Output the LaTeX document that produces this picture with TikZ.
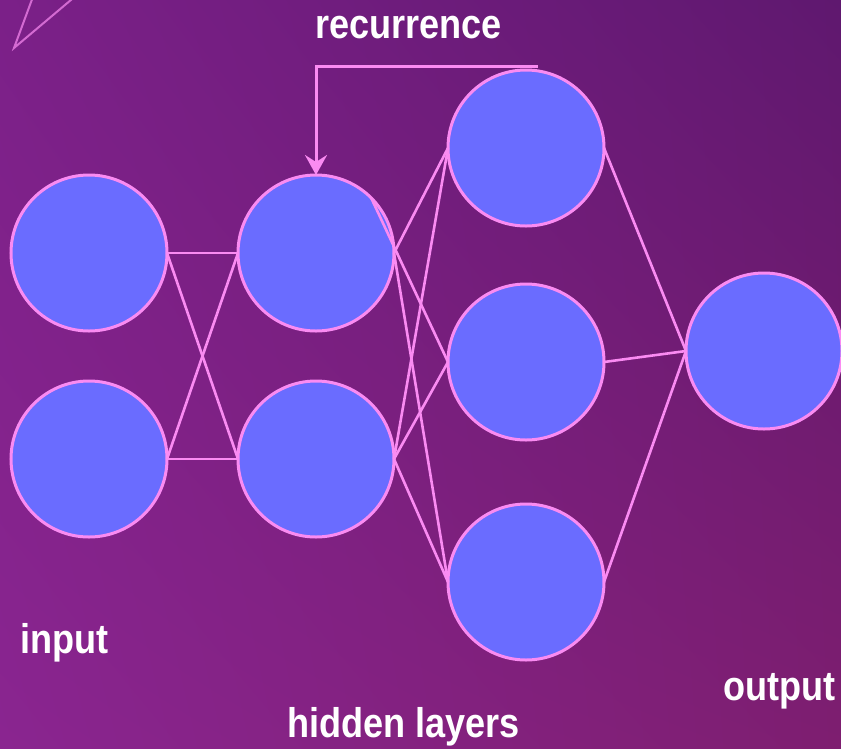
\documentclass[tikz,border=0pt]{standalone}
\usepackage{fontspec}
\setmainfont{Liberation Sans}[FakeStretch=0.87]
\usetikzlibrary{arrows.meta,shadings}
\definecolor{bgUL}{HTML}{7B2088}
\definecolor{bgUR}{HTML}{5F186F}
\definecolor{bgLL}{HTML}{8A2590}
\definecolor{bgLR}{HTML}{7E1E70}
\definecolor{neuronfill}{HTML}{6A6CFF}
\definecolor{pinkline}{HTML}{FA8BF2}
\tikzset{
  neuron/.style={circle, draw=pinkline, fill=neuronfill, line width=3pt,
    minimum size=156pt, inner sep=0pt, outer sep=0pt},
  link/.style={draw=pinkline, line width=2.6pt},
  caption/.style={text=white, inner sep=0pt, anchor=base west,
    font=\fontsize{41.5}{41.5}\selectfont\bfseries},
}
\begin{document}
\begin{tikzpicture}[x=1pt, y=-1pt]
  \useasboundingbox (0,0) rectangle (841,748);
  \clip (0,0) rectangle (841,748);
  % background
  \shade[upper left=bgUL, upper right=bgUR, lower left=bgLL, lower right=bgLR]
    (0,0) rectangle (841,748);
  % faint corner ornament
  \draw[pinkline, opacity=0.7, line width=2pt] (34,-6) -- (14,48) -- (78,-6);

  % neurons
  \node[neuron] (i1) at (89,253) {};
  \node[neuron] (i2) at (89,459) {};
  \node[neuron] (h1) at (316,253) {};
  \node[neuron] (h2) at (316,459) {};
  \node[neuron] (g1) at (526,148) {};
  \node[neuron] (g2) at (526,362) {};
  \node[neuron] (g3) at (526,582) {};
  \node[neuron] (o)  at (764,351) {};

  % input -> first hidden layer
  \draw[link] (i1.east) -- (h1.west);
  \draw[link] (i1.east) -- (h2.west);
  \draw[link] (i2.east) -- (h1.west);
  \draw[link] (i2.east) -- (h2.west);

  % first hidden layer -> second hidden layer
  \draw[link] (h1.east) -- (g1.west);
  \draw[link] (h1.north east) -- (g2.west);
  \draw[link] (h1.east) -- (g3.west);
  \draw[link] (h2.east) -- (g1.west);
  \draw[link] (h2.east) -- (g2.west);
  \draw[link] (h2.east) -- (g3.west);

  % second hidden layer -> output
  \draw[link] (g1.east) -- (o.west);
  \draw[link] (g2.east) -- (o.west);
  \draw[link] (g3.east) -- (o.west);

  % recurrence loop
  \coordinate (rstart) at (538,66);
  \draw[link, line width=3pt, -{Stealth[length=20pt, width=22pt, inset=7pt]}]
    (rstart) -| (h1.north);

  % labels
  \node[caption] (trec) at (315,38) {recurrence};
  \node[caption] (tin) at (20,653) {input};
  \node[caption] (thid) at (287,737) {hidden layers};
  \node[caption] (tout) at (723,700) {output};
\end{tikzpicture}
\end{document}
